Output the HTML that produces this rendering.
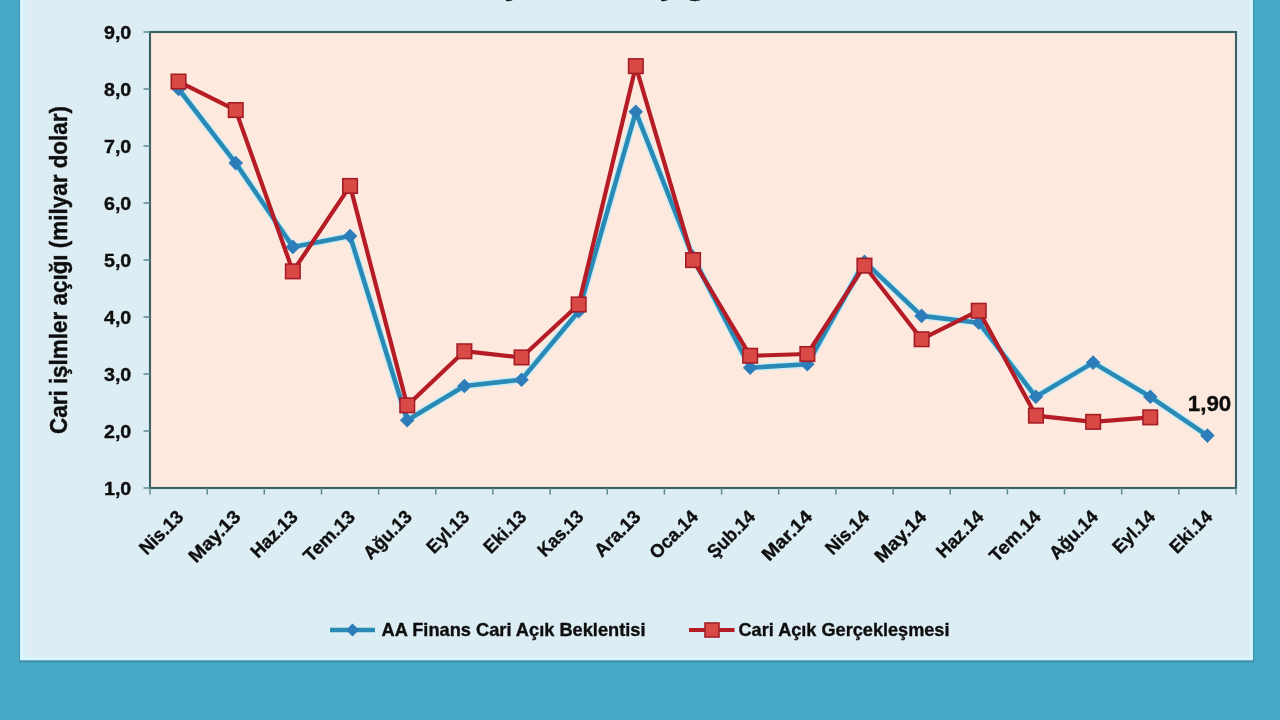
<!DOCTYPE html>
<html lang="tr"><head><meta charset="utf-8"><title>Cari işlemler açığı</title>
<style>
html,body{margin:0;padding:0;width:1280px;height:720px;overflow:hidden;background:#47a9c6;}
svg{display:block;position:absolute;left:0;top:0}
text{font-family:"Liberation Sans","DejaVu Sans",sans-serif;font-weight:bold;fill:#0c0c0c;stroke:#0c0c0c;stroke-width:0.35px;stroke-linejoin:round}
</style></head><body>
<svg width="1280" height="720" viewBox="0 0 1280 720">
<defs>
<filter id="soft" x="-5%" y="-5%" width="110%" height="110%"><feGaussianBlur stdDeviation="0.7"/></filter>
<filter id="softt" x="-5%" y="-20%" width="110%" height="140%"><feGaussianBlur stdDeviation="0.55"/></filter>
</defs>
<rect x="0" y="0" width="1280" height="720" fill="#47a9c6"/>

<rect x="19" y="-5" width="1235" height="667.5" fill="#3f8fae"/>
<rect x="20" y="-5" width="1233" height="665.3" fill="#d6f5fc"/>
<rect x="25" y="-5" width="1224.5" height="662.3" fill="#dcedf4"/>
<rect x="150.0" y="32.0" width="1086.0" height="456.0" fill="#fde9dd" stroke="#3b6068" stroke-width="2.1"/>
<g stroke="#5f8990" stroke-width="1.5">
<line x1="143.5" y1="32.0" x2="150.0" y2="32.0"/>
<line x1="143.5" y1="89.0" x2="150.0" y2="89.0"/>
<line x1="143.5" y1="146.0" x2="150.0" y2="146.0"/>
<line x1="143.5" y1="203.0" x2="150.0" y2="203.0"/>
<line x1="143.5" y1="260.0" x2="150.0" y2="260.0"/>
<line x1="143.5" y1="317.0" x2="150.0" y2="317.0"/>
<line x1="143.5" y1="374.0" x2="150.0" y2="374.0"/>
<line x1="143.5" y1="431.0" x2="150.0" y2="431.0"/>
<line x1="143.5" y1="488.0" x2="150.0" y2="488.0"/>
<line x1="150.0" y1="488.0" x2="150.0" y2="494.5"/>
<line x1="207.2" y1="488.0" x2="207.2" y2="494.5"/>
<line x1="264.3" y1="488.0" x2="264.3" y2="494.5"/>
<line x1="321.5" y1="488.0" x2="321.5" y2="494.5"/>
<line x1="378.6" y1="488.0" x2="378.6" y2="494.5"/>
<line x1="435.8" y1="488.0" x2="435.8" y2="494.5"/>
<line x1="492.9" y1="488.0" x2="492.9" y2="494.5"/>
<line x1="550.1" y1="488.0" x2="550.1" y2="494.5"/>
<line x1="607.3" y1="488.0" x2="607.3" y2="494.5"/>
<line x1="664.4" y1="488.0" x2="664.4" y2="494.5"/>
<line x1="721.6" y1="488.0" x2="721.6" y2="494.5"/>
<line x1="778.7" y1="488.0" x2="778.7" y2="494.5"/>
<line x1="835.9" y1="488.0" x2="835.9" y2="494.5"/>
<line x1="893.1" y1="488.0" x2="893.1" y2="494.5"/>
<line x1="950.2" y1="488.0" x2="950.2" y2="494.5"/>
<line x1="1007.4" y1="488.0" x2="1007.4" y2="494.5"/>
<line x1="1064.5" y1="488.0" x2="1064.5" y2="494.5"/>
<line x1="1121.7" y1="488.0" x2="1121.7" y2="494.5"/>
<line x1="1178.8" y1="488.0" x2="1178.8" y2="494.5"/>
<line x1="1236.0" y1="488.0" x2="1236.0" y2="494.5"/>
</g>
<g filter="url(#soft)">
<polyline points="178.6,89.0 235.7,163.1 292.9,246.9 350.1,236.1 407.2,420.2 464.4,386.0 521.5,379.7 578.7,311.3 635.8,111.8 693.0,257.1 750.2,367.7 807.3,364.3 864.5,261.7 921.6,315.9 978.8,322.7 1035.9,396.8 1093.1,362.6 1150.3,396.8 1207.4,435.6" fill="none" stroke="#bfeefb" stroke-width="7.5" stroke-linejoin="round" opacity="0.8"/>
<polyline points="178.6,89.0 235.7,163.1 292.9,246.9 350.1,236.1 407.2,420.2 464.4,386.0 521.5,379.7 578.7,311.3 635.8,111.8 693.0,257.1 750.2,367.7 807.3,364.3 864.5,261.7 921.6,315.9 978.8,322.7 1035.9,396.8 1093.1,362.6 1150.3,396.8 1207.4,435.6" fill="none" stroke="#2b8ab6" stroke-width="4.6" stroke-linejoin="round"/>
<path d="M178.6 81.7L185.9 89.0L178.6 96.3L171.3 89.0Z" fill="#2f7dbb"/>
<path d="M235.7 155.8L243.0 163.1L235.7 170.4L228.4 163.1Z" fill="#2f7dbb"/>
<path d="M292.9 239.6L300.2 246.9L292.9 254.2L285.6 246.9Z" fill="#2f7dbb"/>
<path d="M350.1 228.8L357.4 236.1L350.1 243.4L342.8 236.1Z" fill="#2f7dbb"/>
<path d="M407.2 412.9L414.5 420.2L407.2 427.5L399.9 420.2Z" fill="#2f7dbb"/>
<path d="M464.4 378.7L471.7 386.0L464.4 393.3L457.1 386.0Z" fill="#2f7dbb"/>
<path d="M521.5 372.4L528.8 379.7L521.5 387.0L514.2 379.7Z" fill="#2f7dbb"/>
<path d="M578.7 304.0L586.0 311.3L578.7 318.6L571.4 311.3Z" fill="#2f7dbb"/>
<path d="M635.8 104.5L643.1 111.8L635.8 119.1L628.5 111.8Z" fill="#2f7dbb"/>
<path d="M693.0 249.8L700.3 257.1L693.0 264.4L685.7 257.1Z" fill="#2f7dbb"/>
<path d="M750.2 360.4L757.5 367.7L750.2 375.0L742.9 367.7Z" fill="#2f7dbb"/>
<path d="M807.3 357.0L814.6 364.3L807.3 371.6L800.0 364.3Z" fill="#2f7dbb"/>
<path d="M864.5 254.4L871.8 261.7L864.5 269.0L857.2 261.7Z" fill="#2f7dbb"/>
<path d="M921.6 308.6L928.9 315.9L921.6 323.2L914.3 315.9Z" fill="#2f7dbb"/>
<path d="M978.8 315.4L986.1 322.7L978.8 330.0L971.5 322.7Z" fill="#2f7dbb"/>
<path d="M1035.9 389.5L1043.2 396.8L1035.9 404.1L1028.6 396.8Z" fill="#2f7dbb"/>
<path d="M1093.1 355.3L1100.4 362.6L1093.1 369.9L1085.8 362.6Z" fill="#2f7dbb"/>
<path d="M1150.3 389.5L1157.6 396.8L1150.3 404.1L1143.0 396.8Z" fill="#2f7dbb"/>
<path d="M1207.4 428.3L1214.7 435.6L1207.4 442.9L1200.1 435.6Z" fill="#2f7dbb"/>
<polyline points="178.6,81.6 235.7,110.1 292.9,271.4 350.1,185.9 407.2,405.4 464.4,351.2 521.5,357.5 578.7,304.5 635.8,66.2 693.0,260.0 750.2,355.8 807.3,354.0 864.5,265.7 921.6,339.2 978.8,310.7 1035.9,415.6 1093.1,421.9 1150.3,417.3" fill="none" stroke="#b51c26" stroke-width="4.2" stroke-linejoin="round"/>
<rect x="171.3" y="74.3" width="14.5" height="14.5" fill="#d94a45" stroke="#a51f27" stroke-width="1.6"/>
<rect x="228.5" y="102.8" width="14.5" height="14.5" fill="#d94a45" stroke="#a51f27" stroke-width="1.6"/>
<rect x="285.6" y="264.1" width="14.5" height="14.5" fill="#d94a45" stroke="#a51f27" stroke-width="1.6"/>
<rect x="342.8" y="178.7" width="14.5" height="14.5" fill="#d94a45" stroke="#a51f27" stroke-width="1.6"/>
<rect x="400.0" y="398.1" width="14.5" height="14.5" fill="#d94a45" stroke="#a51f27" stroke-width="1.6"/>
<rect x="457.1" y="344.0" width="14.5" height="14.5" fill="#d94a45" stroke="#a51f27" stroke-width="1.6"/>
<rect x="514.3" y="350.2" width="14.5" height="14.5" fill="#d94a45" stroke="#a51f27" stroke-width="1.6"/>
<rect x="571.4" y="297.2" width="14.5" height="14.5" fill="#d94a45" stroke="#a51f27" stroke-width="1.6"/>
<rect x="628.6" y="58.9" width="14.5" height="14.5" fill="#d94a45" stroke="#a51f27" stroke-width="1.6"/>
<rect x="685.8" y="252.8" width="14.5" height="14.5" fill="#d94a45" stroke="#a51f27" stroke-width="1.6"/>
<rect x="742.9" y="348.5" width="14.5" height="14.5" fill="#d94a45" stroke="#a51f27" stroke-width="1.6"/>
<rect x="800.1" y="346.8" width="14.5" height="14.5" fill="#d94a45" stroke="#a51f27" stroke-width="1.6"/>
<rect x="857.2" y="258.4" width="14.5" height="14.5" fill="#d94a45" stroke="#a51f27" stroke-width="1.6"/>
<rect x="914.4" y="332.0" width="14.5" height="14.5" fill="#d94a45" stroke="#a51f27" stroke-width="1.6"/>
<rect x="971.5" y="303.5" width="14.5" height="14.5" fill="#d94a45" stroke="#a51f27" stroke-width="1.6"/>
<rect x="1028.7" y="408.4" width="14.5" height="14.5" fill="#d94a45" stroke="#a51f27" stroke-width="1.6"/>
<rect x="1085.9" y="414.6" width="14.5" height="14.5" fill="#d94a45" stroke="#a51f27" stroke-width="1.6"/>
<rect x="1143.0" y="410.1" width="14.5" height="14.5" fill="#d94a45" stroke="#a51f27" stroke-width="1.6"/>
</g>
<g filter="url(#softt)">
<text x="131.3" y="39.3" font-size="18.6" text-anchor="end" textLength="27.3" lengthAdjust="spacingAndGlyphs">9,0</text>
<text x="131.3" y="96.3" font-size="18.6" text-anchor="end" textLength="27.3" lengthAdjust="spacingAndGlyphs">8,0</text>
<text x="131.3" y="153.3" font-size="18.6" text-anchor="end" textLength="27.3" lengthAdjust="spacingAndGlyphs">7,0</text>
<text x="131.3" y="210.3" font-size="18.6" text-anchor="end" textLength="27.3" lengthAdjust="spacingAndGlyphs">6,0</text>
<text x="131.3" y="267.3" font-size="18.6" text-anchor="end" textLength="27.3" lengthAdjust="spacingAndGlyphs">5,0</text>
<text x="131.3" y="324.3" font-size="18.6" text-anchor="end" textLength="27.3" lengthAdjust="spacingAndGlyphs">4,0</text>
<text x="131.3" y="381.3" font-size="18.6" text-anchor="end" textLength="27.3" lengthAdjust="spacingAndGlyphs">3,0</text>
<text x="131.3" y="438.3" font-size="18.6" text-anchor="end" textLength="27.3" lengthAdjust="spacingAndGlyphs">2,0</text>
<text x="131.3" y="495.3" font-size="18.6" text-anchor="end" textLength="27.3" lengthAdjust="spacingAndGlyphs">1,0</text>
<text transform="translate(184.6,518) rotate(-45)" font-size="18.6" text-anchor="end" textLength="53.5" lengthAdjust="spacingAndGlyphs">Nis.13</text>
<text transform="translate(241.7,518) rotate(-45)" font-size="18.6" text-anchor="end" textLength="64.6" lengthAdjust="spacingAndGlyphs">May.13</text>
<text transform="translate(298.9,518) rotate(-45)" font-size="18.6" text-anchor="end" textLength="58.0" lengthAdjust="spacingAndGlyphs">Haz.13</text>
<text transform="translate(356.1,518) rotate(-45)" font-size="18.6" text-anchor="end" textLength="64.0" lengthAdjust="spacingAndGlyphs">Tem.13</text>
<text transform="translate(413.2,518) rotate(-45)" font-size="18.6" text-anchor="end" textLength="60.0" lengthAdjust="spacingAndGlyphs">Ağu.13</text>
<text transform="translate(470.4,518) rotate(-45)" font-size="18.6" text-anchor="end" textLength="51.5" lengthAdjust="spacingAndGlyphs">Eyl.13</text>
<text transform="translate(527.5,518) rotate(-45)" font-size="18.6" text-anchor="end" textLength="51.6" lengthAdjust="spacingAndGlyphs">Eki.13</text>
<text transform="translate(584.7,518) rotate(-45)" font-size="18.6" text-anchor="end" textLength="56.3" lengthAdjust="spacingAndGlyphs">Kas.13</text>
<text transform="translate(641.8,518) rotate(-45)" font-size="18.6" text-anchor="end" textLength="56.6" lengthAdjust="spacingAndGlyphs">Ara.13</text>
<text transform="translate(699.0,518) rotate(-45)" font-size="18.6" text-anchor="end" textLength="59.4" lengthAdjust="spacingAndGlyphs">Oca.14</text>
<text transform="translate(756.2,518) rotate(-45)" font-size="18.6" text-anchor="end" textLength="58.5" lengthAdjust="spacingAndGlyphs">Şub.14</text>
<text transform="translate(813.3,518) rotate(-45)" font-size="18.6" text-anchor="end" textLength="62.2" lengthAdjust="spacingAndGlyphs">Mar.14</text>
<text transform="translate(870.5,518) rotate(-45)" font-size="18.6" text-anchor="end" textLength="53.5" lengthAdjust="spacingAndGlyphs">Nis.14</text>
<text transform="translate(927.6,518) rotate(-45)" font-size="18.6" text-anchor="end" textLength="64.6" lengthAdjust="spacingAndGlyphs">May.14</text>
<text transform="translate(984.8,518) rotate(-45)" font-size="18.6" text-anchor="end" textLength="58.0" lengthAdjust="spacingAndGlyphs">Haz.14</text>
<text transform="translate(1041.9,518) rotate(-45)" font-size="18.6" text-anchor="end" textLength="64.0" lengthAdjust="spacingAndGlyphs">Tem.14</text>
<text transform="translate(1099.1,518) rotate(-45)" font-size="18.6" text-anchor="end" textLength="60.0" lengthAdjust="spacingAndGlyphs">Ağu.14</text>
<text transform="translate(1156.3,518) rotate(-45)" font-size="18.6" text-anchor="end" textLength="51.5" lengthAdjust="spacingAndGlyphs">Eyl.14</text>
<text transform="translate(1213.4,518) rotate(-45)" font-size="18.6" text-anchor="end" textLength="51.6" lengthAdjust="spacingAndGlyphs">Eki.14</text>
<text x="1187.8" y="410.6" font-size="21.6" textLength="43.5" lengthAdjust="spacingAndGlyphs">1,90</text>
<text transform="translate(67,434) rotate(-90)" font-size="23.3" textLength="328" lengthAdjust="spacingAndGlyphs">Cari işlmler açığı (milyar dolar)</text>
<text x="381.5" y="636" font-size="18.6" textLength="264" lengthAdjust="spacingAndGlyphs">AA Finans Cari Açık Beklentisi</text>
<text x="738.5" y="636" font-size="18.6" textLength="211" lengthAdjust="spacingAndGlyphs">Cari Açık Gerçekleşmesi</text>
</g>
<g filter="url(#soft)">
<line x1="330" y1="630" x2="375" y2="630" stroke="#2b8ab6" stroke-width="4.6"/>
<path d="M352.5 623.5L359 630L352.5 636.5L346 630Z" fill="#2f7dbb"/>
<line x1="689" y1="630" x2="734.5" y2="630" stroke="#b51c26" stroke-width="4.2"/>
<rect x="705" y="623" width="14" height="14" fill="#d94a45" stroke="#a51f27" stroke-width="1.6"/>
</g>
<text x="410" y="-4.6" font-size="30" textLength="505" lengthAdjust="spacingAndGlyphs" filter="url(#softt)">Cari işlemler açığı beklentileri</text>
</svg></body></html>
